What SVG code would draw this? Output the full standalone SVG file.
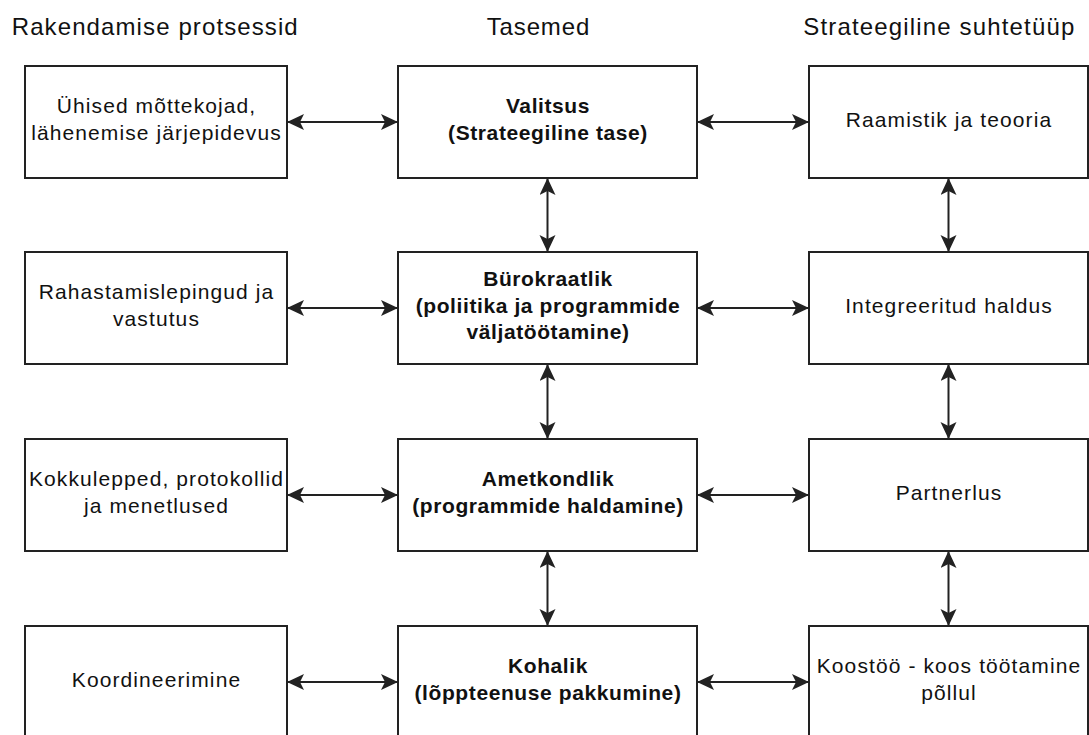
<svg xmlns="http://www.w3.org/2000/svg" width="1089" height="735" viewBox="0 0 1089 735">
  <style>
    .box { fill: #ffffff; stroke: #222222; stroke-width: 2; }
    .hdr { font-family: "Liberation Sans", Arial, sans-serif; font-size: 24px; fill: #111111; }
    .t { font-family: "Liberation Sans", Arial, sans-serif; font-size: 21px; fill: #111111; text-anchor: middle; letter-spacing: 1.1px; }
    .b { font-family: "Liberation Sans", Arial, sans-serif; font-size: 21px; font-weight: bold; fill: #111111; text-anchor: middle; letter-spacing: 0.6px; }
    .conn { stroke: #222222; stroke-width: 2; fill: none; marker-start: url(#arr); marker-end: url(#arr); }
  </style>
  <defs>
    <marker id="arr" markerUnits="userSpaceOnUse" markerWidth="18" markerHeight="18" refX="17" refY="8" orient="auto-start-reverse">
      <path d="M0,0 L17,8 L0,16 L4,8 Z" fill="#222222"/>
    </marker>
  </defs>
  <rect x="0" y="0" width="1089" height="735" fill="#ffffff"/>

  <g id="headers">
    <text class="hdr" x="11.7" y="35" textLength="286" lengthAdjust="spacing">Rakendamise protsessid</text>
    <text class="hdr" x="486.7" y="35" textLength="102.6" lengthAdjust="spacing">Tasemed</text>
    <text class="hdr" x="803.3" y="35" textLength="271" lengthAdjust="spacing">Strateegiline suhtetüüp</text>
  </g>

  <g id="connectors">
    <line class="conn" x1="287" y1="122" x2="398" y2="122"/>
    <line class="conn" x1="697" y1="122" x2="809" y2="122"/>
    <line class="conn" x1="287" y1="308" x2="398" y2="308"/>
    <line class="conn" x1="697" y1="308" x2="809" y2="308"/>
    <line class="conn" x1="287" y1="495" x2="398" y2="495"/>
    <line class="conn" x1="697" y1="495" x2="809" y2="495"/>
    <line class="conn" x1="287" y1="682" x2="398" y2="682"/>
    <line class="conn" x1="697" y1="682" x2="809" y2="682"/>
    <line class="conn" x1="547.5" y1="178" x2="547.5" y2="252"/>
    <line class="conn" x1="547.5" y1="364" x2="547.5" y2="439"/>
    <line class="conn" x1="547.5" y1="551" x2="547.5" y2="626"/>
    <line class="conn" x1="948.5" y1="178" x2="948.5" y2="252"/>
    <line class="conn" x1="948.5" y1="364" x2="948.5" y2="439"/>
    <line class="conn" x1="948.5" y1="551" x2="948.5" y2="626"/>
  </g>

  <g id="n-l1">
    <rect class="box" x="25" y="66" width="262" height="112"/>
    <text class="t" x="156.5" y="113.25">Ühised mõttekojad,</text>
    <text class="t" x="156.5" y="139.75">lähenemise järjepidevus</text>
  </g>
  <g id="n-m1">
    <rect class="box" x="398" y="66" width="299" height="112"/>
    <text class="b" x="548" y="113.25">Valitsus</text>
    <text class="b" x="548" y="139.75">(Strateegiline tase)</text>
  </g>
  <g id="n-r1">
    <rect class="box" x="809" y="66" width="279" height="112"/>
    <text class="t" x="949" y="126.5">Raamistik ja teooria</text>
  </g>

  <g id="n-l2">
    <rect class="box" x="25" y="252" width="262" height="112"/>
    <text class="t" x="156.5" y="299.25">Rahastamislepingud ja</text>
    <text class="t" x="156.5" y="325.75">vastutus</text>
  </g>
  <g id="n-m2">
    <rect class="box" x="398" y="252" width="299" height="112"/>
    <text class="b" x="548" y="286">Bürokraatlik</text>
    <text class="b" x="548" y="312.5">(poliitika ja programmide</text>
    <text class="b" x="548" y="339">väljatöötamine)</text>
  </g>
  <g id="n-r2">
    <rect class="box" x="809" y="252" width="279" height="112"/>
    <text class="t" x="949" y="312.5">Integreeritud haldus</text>
  </g>

  <g id="n-l3">
    <rect class="box" x="25" y="439" width="262" height="112"/>
    <text class="t" x="156.5" y="486.25">Kokkulepped, protokollid</text>
    <text class="t" x="156.5" y="512.75">ja menetlused</text>
  </g>
  <g id="n-m3">
    <rect class="box" x="398" y="439" width="299" height="112"/>
    <text class="b" x="548" y="486.25">Ametkondlik</text>
    <text class="b" x="548" y="512.75">(programmide haldamine)</text>
  </g>
  <g id="n-r3">
    <rect class="box" x="809" y="439" width="279" height="112"/>
    <text class="t" x="949" y="499.5">Partnerlus</text>
  </g>

  <g id="n-l4">
    <rect class="box" x="25" y="626" width="262" height="112"/>
    <text class="t" x="156.5" y="686.5">Koordineerimine</text>
  </g>
  <g id="n-m4">
    <rect class="box" x="398" y="626" width="299" height="112"/>
    <text class="b" x="548" y="673.25">Kohalik</text>
    <text class="b" x="548" y="699.75">(lõppteenuse pakkumine)</text>
  </g>
  <g id="n-r4">
    <rect class="box" x="809" y="626" width="279" height="112"/>
    <text class="t" x="949" y="673.25">Koostöö - koos töötamine</text>
    <text class="t" x="949" y="699.75">põllul</text>
  </g>
</svg>
